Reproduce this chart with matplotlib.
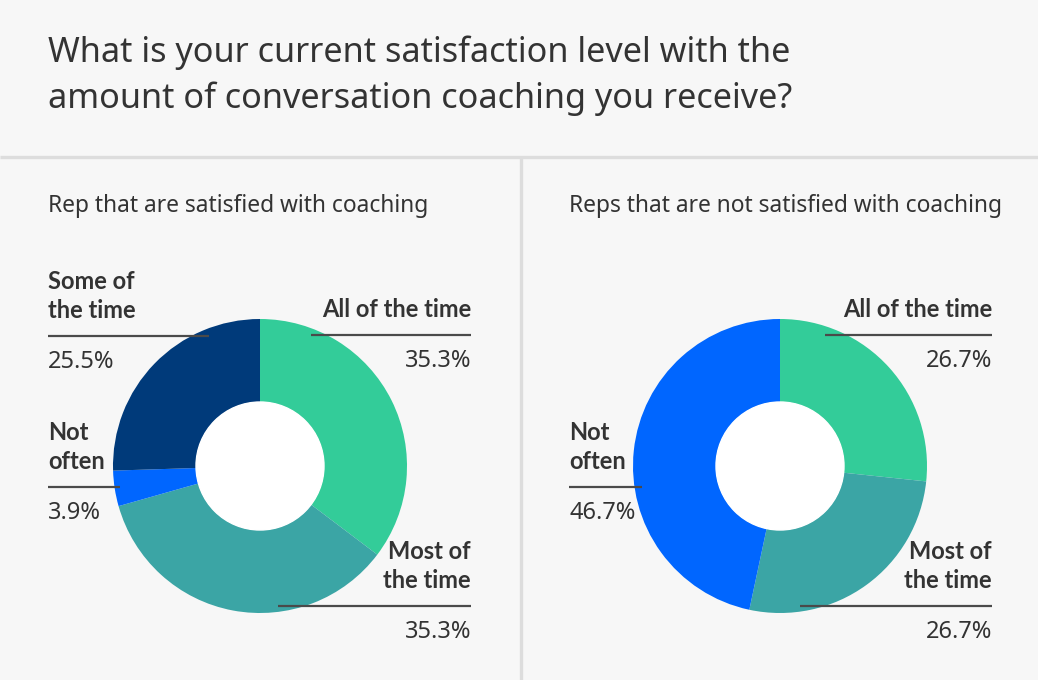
import matplotlib.pyplot as plt
from matplotlib.patches import Circle

# === DATI ===
labels_left = ['All of the time', 'Most of\nthe time', 'Not\noften', 'Some of\nthe time']
values_left = [35.3, 35.3, 3.9, 25.5]
colors_left = ['#33cc99', '#3ba5a5', '#0066ff', '#003a7a']

labels_right = ['All of the time', 'Most of\nthe time', 'Not\noften']
values_right = [26.7, 26.7, 46.7]
colors_right = ['#33cc99', '#3ba5a5', '#0066ff']

title = 'What is your current satisfaction level with the\namount of conversation coaching you receive?'
sub_left = 'Rep that are satisfied with coaching'
sub_right = 'Reps that are not satisfied with coaching'

# === LAYOUT (pixel) ===
W, H = 1038, 680
BG = '#f7f7f7'
TXT = '#333333'
R_OUT, R_IN = 147, 64
plt.rcParams['font.family'] = ['Noto Sans', 'DejaVu Sans']
BOLD = ['Lato', 'Roboto', 'DejaVu Sans']

fig = plt.figure(figsize=(W / 100, H / 100), dpi=100, facecolor=BG)
ax = fig.add_axes([0, 0, 1, 1])
ax.set_facecolor(BG)


def donut(cx, cy, vals, cols):
    ax.pie(vals, colors=cols, center=(cx, cy), radius=R_OUT, startangle=-90,
           counterclock=True, wedgeprops=dict(width=R_OUT - R_IN, linewidth=0))
    ax.add_patch(Circle((cx, cy), R_IN, color='white', zorder=5))


def etichetta(nome, valore, y_line, x0, x1, side):
    # side: 'left' -> testo allineato a sinistra in x0, 'right' -> a destra in x1
    xt = x0 if side == 'left' else x1
    righe = nome.split('\n')
    for k, r in enumerate(reversed(righe)):
        ax.text(xt, y_line - 18 - 29 * k, r, ha=side, va='baseline',
                fontsize=17, fontweight='bold', family=BOLD, color=TXT, zorder=6)
    ax.plot([x0, x1], [y_line, y_line], color='#4a4a4a', lw=1.6, zorder=6,
            solid_capstyle='butt')
    ax.text(xt, y_line + 32, '%.1f%%' % valore, ha=side, va='baseline',
            fontsize=17, color=TXT, zorder=6)


donut(260, 466, values_left, colors_left)
donut(780, 466, values_right, colors_right)

# etichette pannello sinistro
etichetta(labels_left[0], values_left[0], 335, 311, 471, 'right')
etichetta(labels_left[1], values_left[1], 606, 278, 471, 'right')
etichetta(labels_left[2], values_left[2], 487, 48, 120, 'left')
etichetta(labels_left[3], values_left[3], 336, 48, 209, 'left')

# etichette pannello destro
etichetta(labels_right[0], values_right[0], 335, 825, 992, 'right')
etichetta(labels_right[1], values_right[1], 606, 800, 992, 'right')
etichetta(labels_right[2], values_right[2], 487, 569, 642, 'left')

# titolo e sottotitoli
ax.text(48, 62, title.split('\n')[0], fontsize=24.6, color=TXT, va='baseline')
ax.text(48, 108, title.split('\n')[1], fontsize=24.6, color=TXT, va='baseline')
ax.text(48, 212, sub_left, fontsize=16.4, color=TXT, va='baseline')
ax.text(569, 212, sub_right, fontsize=16.4, color=TXT, va='baseline')

# separatori
ax.plot([0, W], [156.5, 156.5], color='#dddddd', lw=2.4, solid_capstyle='butt')
ax.plot([520.5, 520.5], [158, H], color='#dddddd', lw=2.4, solid_capstyle='butt')

ax.set_xlim(0, W)
ax.set_ylim(H, 0)
ax.set_aspect('auto')
ax.axis('off')

fig.savefig('out.png', dpi=100, facecolor=BG)
